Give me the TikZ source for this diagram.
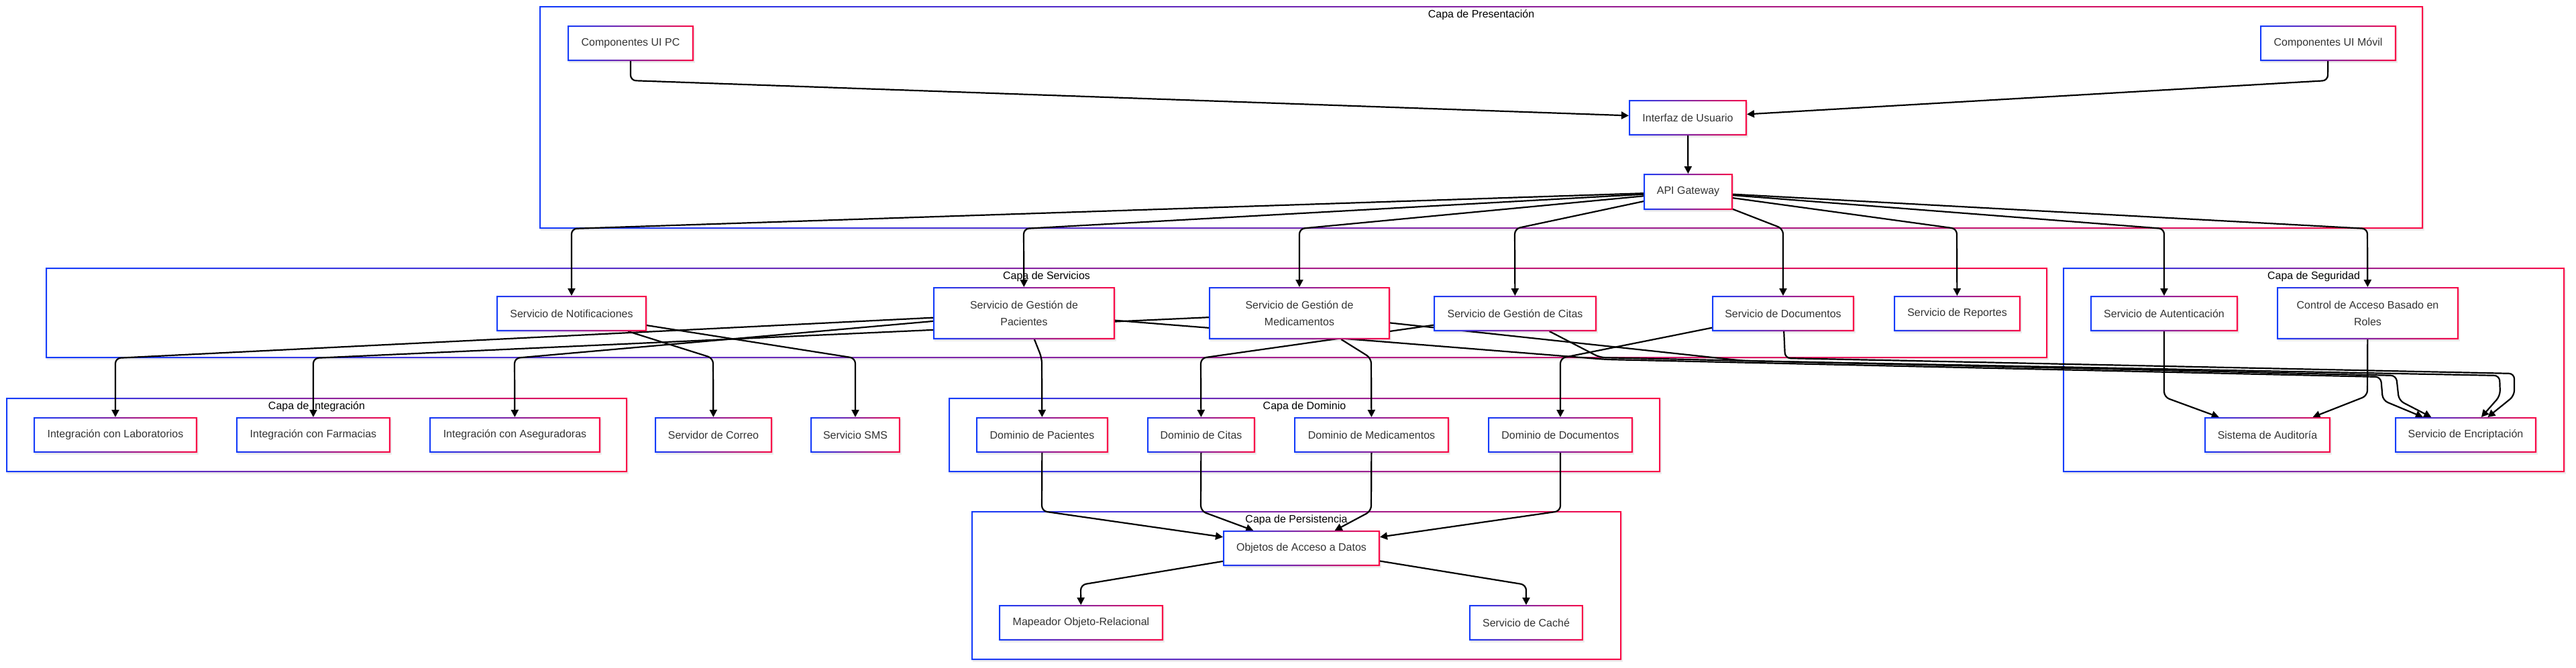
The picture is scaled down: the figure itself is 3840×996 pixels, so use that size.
\documentclass[tikz,border=0pt]{standalone}
\usepackage{fontspec}
\setmainfont{Liberation Sans}
\usetikzlibrary{arrows.meta}
\definecolor{cB}{RGB}{20,60,250}
\definecolor{cR}{RGB}{250,10,70}
\definecolor{txt}{HTML}{333333}
\pgfdeclarelayer{frames}
\pgfdeclarelayer{edges}
\pgfsetlayers{frames,edges,main}
\newcommand\mkbox[6]{%
  \pgfmathsetmacro\mkbw{(#4-#2)*0.5}%
  \pgfmathsetmacro\mkbh{(#5-#3)*0.5}%
  \node[nbox,minimum width=\mkbw pt,minimum height=\mkbh pt] (#1) at ({(#2+#4)/2},{(#3+#5)/2}) {#6};%
  \shade[left color=cB,right color=cR,even odd rule] (#2,#3) rectangle (#4,#5) (#2+2.2,#3+2.2) rectangle (#4-2.2,#5-2.2);%
  \begin{pgfonlayer}{frames}\fill[shadowc] (#2+1.5,#3+3) rectangle (#4+1.5,#5+3);\end{pgfonlayer}%
}
\newcommand\mkframe[6]{%
  \begin{pgfonlayer}{frames}%
  \fill[shadowc] (#2+1.5,#3+3) rectangle (#4+1.5,#5+3);%
  \fill[white] (#2,#3) rectangle (#4,#5);%
  \shade[left color=cB,right color=cR,even odd rule] (#2,#3) rectangle (#4,#5) (#2+2,#3+2) rectangle (#4-2,#5-2);%
  \node[ttl,anchor=base] (#1) at ({(#2+#4)/2},#3+17) {#6};%
  \end{pgfonlayer}%
}
\begin{document}
\begin{tikzpicture}[x=0.5pt,y=-0.5pt,
  nbox/.style={draw=none,fill=white,inner sep=0pt,outer sep=0pt,align=center,text=txt,font=\fontsize{8}{12.5}\selectfont},
  ttl/.style={inner sep=0pt,text=black,font=\fontsize{8}{10}\selectfont},
  conn/.style={draw=black,line width=1.1pt,rounded corners=4pt,-{Triangle[length=5.5pt,width=5.5pt]}},
  shadowc/.style={fill=black,opacity=0.07}]
\begin{pgfonlayer}{frames}
\fill[white] (0,0) rectangle (3840,996);
\end{pgfonlayer}
\useasboundingbox (0,0) rectangle (3840,996);
% frames
\mkframe{fPres}{804}{9}{3612}{341}{Capa de Presentación}
\mkframe{fServ}{68}{399}{3052}{534}{Capa de Servicios}
\mkframe{fSeg}{3075}{399}{3823}{704}{Capa de Seguridad}
\mkframe{fInt}{9}{593}{935}{704}{Capa de Integración}
\mkframe{fDom}{1414}{593}{2475}{704}{Capa de Dominio}
\mkframe{fPer}{1448}{762}{2417}{984}{Capa de Persistencia}
% nodes
\mkbox{pc}{846}{38}{1034}{91}{Componentes UI PC}
\mkbox{movil}{3369}{38}{3572}{91}{Componentes UI Móvil}
\mkbox{iu}{2428}{149}{2604}{202}{Interfaz de Usuario}
\mkbox{api}{2450}{259}{2583}{313}{API Gateway}
\mkbox{snot}{740}{441}{964}{494}{Servicio de Notificaciones}
\mkbox{spac}{1391}{428}{1662}{506}{Servicio de Gestión de\\Pacientes}
\mkbox{smed}{1802}{428}{2072}{506}{Servicio de Gestión de\\Medicamentos}
\mkbox{scit}{2137}{441}{2380}{494}{Servicio de Gestión de Citas}
\mkbox{sdoc}{2552}{441}{2764}{494}{Servicio de Documentos}
\mkbox{srep}{2823}{441}{3012}{494}{Servicio de Reportes}
\mkbox{saut}{3116}{441}{3336}{494}{Servicio de Autenticación}
\mkbox{rbac}{3394}{428}{3665}{506}{Control de Acceso Basado en\\Roles}
\mkbox{audit}{3286}{622}{3474}{675}{Sistema de Auditoría}
\mkbox{enc}{3570}{622}{3781}{675}{Servicio de Encriptación}
\mkbox{ilab}{50}{622}{294}{675}{Integración con Laboratorios}
\mkbox{ifar}{352}{622}{582}{675}{Integración con Farmacias}
\mkbox{iase}{640}{622}{895}{675}{Integración con Aseguradoras}
\mkbox{mail}{976}{622}{1151}{675}{Servidor de Correo}
\mkbox{sms}{1208}{622}{1342}{675}{Servicio SMS}
\mkbox{dpac}{1455}{622}{1652}{675}{Dominio de Pacientes}
\mkbox{dcit}{1710}{622}{1871}{675}{Dominio de Citas}
\mkbox{dmed}{1929}{622}{2160}{675}{Dominio de Medicamentos}
\mkbox{ddoc}{2218}{622}{2434}{675}{Dominio de Documentos}
\mkbox{dao}{1823}{791}{2057}{844}{Objetos de Acceso a Datos}
\mkbox{orm}{1489}{902}{1734}{955}{Mapeador Objeto-Relacional}
\mkbox{cache}{2190}{902}{2360}{955}{Servicio de Caché}
% edges
\begin{pgfonlayer}{edges}
\draw[conn] (pc) -- (940,120) -- (iu);
\draw[conn] (movil) -- (3470,120) -- (iu);
\draw[conn] (iu) -- (api);
\draw[conn] (api) -- (852,341) -- (snot);
\draw[conn] (api) -- (1526,341) -- (spac);
\draw[conn] (api) -- (1937,341) -- (smed);
\draw[conn] (api) -- (2258,341) -- (scit);
\draw[conn] (api) -- (2658,341) -- (sdoc);
\draw[conn] (api) -- (2917,341) -- (srep);
\draw[conn] (api) -- (3226,341) -- (saut);
\draw[conn] (api) -- (3529,341) -- (rbac);
\draw[conn] (snot) -- (1063,534) -- (mail);
\draw[conn] (snot) -- (1275,534) -- (sms);
\draw[conn] (spac) -- (172,534) -- (ilab);
\draw[conn] (spac) -- (767,534) -- (iase);
\draw[conn] (smed) -- (467,534) -- (ifar);
\draw[conn] (spac) -- (1553,534) -- (dpac);
\draw[conn] (scit) -- (1790,534) -- (dcit);
\draw[conn] (smed) -- (2044,534) -- (dmed);
\draw[conn] (sdoc) -- (2326,534) -- (ddoc);
\draw[conn] (saut) -- (3226,592) -- (audit);
\draw[conn] (rbac) -- (3529,590) -- (audit);
\draw[conn] (spac) -- (2395,536) -- (3549,562) -- (3552,597) -- (enc);
\draw[conn] (scit) -- (2385,533) -- (3572,560) -- (3576,597) -- (enc);
\draw[conn] (smed) -- (2600,538) -- (3726,560) -- (3727,590) -- (enc);
\draw[conn] (sdoc) -- (2661,534) -- (3748,557) -- (3748,590) -- (enc);
\draw[conn] (dpac) -- (1553,762) -- (dao);
\draw[conn] (dcit) -- (1790,762) -- (dao);
\draw[conn] (dmed) -- (2044,762) -- (dao);
\draw[conn] (ddoc) -- (2326,762) -- (dao);
\draw[conn] (dao) -- (1611,872) -- (orm);
\draw[conn] (dao) -- (2275,872) -- (cache);
\end{pgfonlayer}
\end{tikzpicture}
\end{document}
